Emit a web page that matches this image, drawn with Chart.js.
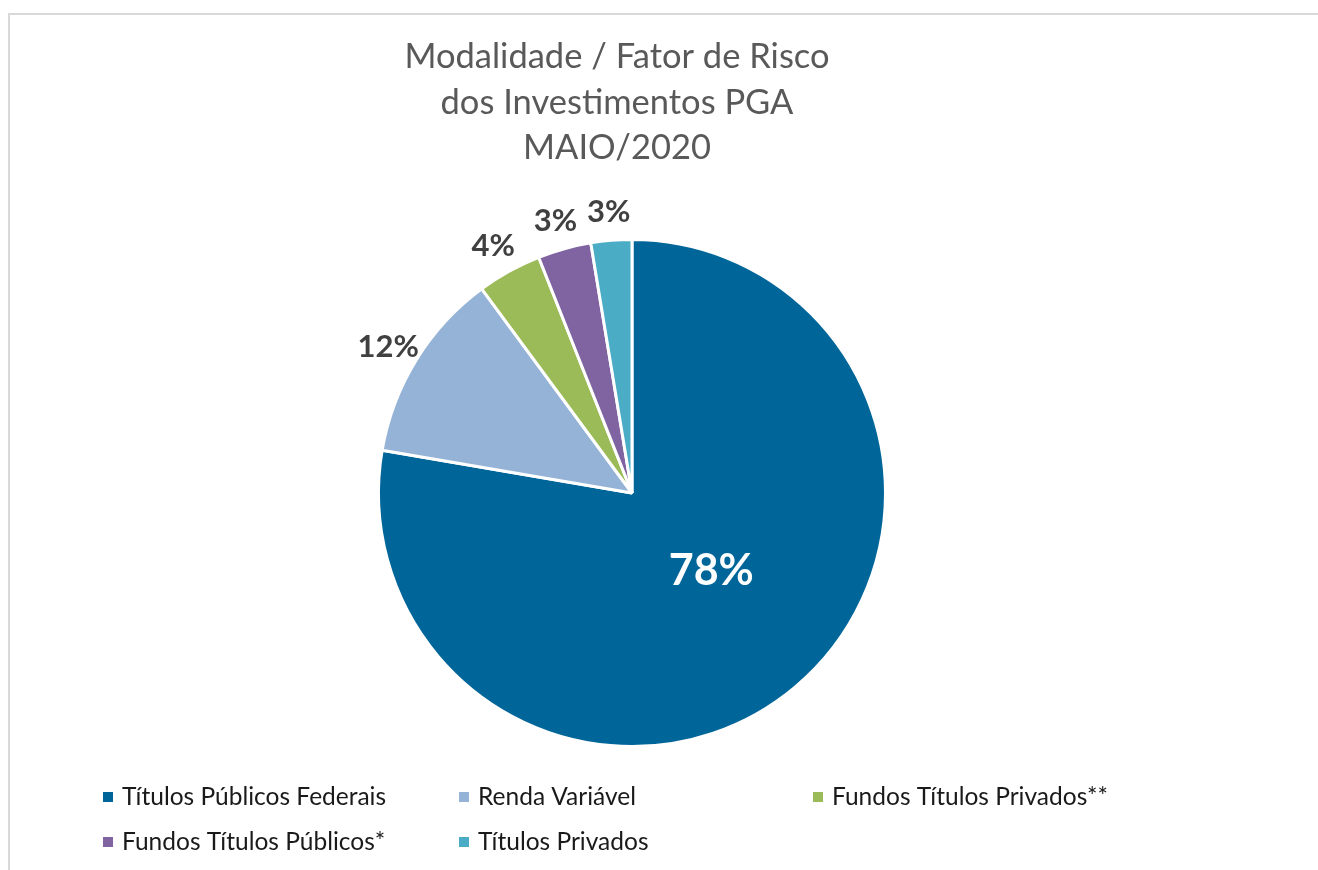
<!DOCTYPE html>
<html>
<head>
<meta charset="utf-8">
<script src="https://cdn.jsdelivr.net/npm/chart.js@4.4.0/dist/chart.umd.min.js"></script>
<style>
  html, body { margin: 0; padding: 0; background: #ffffff; }
  #wrap { position: relative; width: 1318px; height: 870px; }
  #frame { position: absolute; left: 8px; top: 13px; width: 1320px; height: 880px; border: 2px solid #d9d9d9; box-sizing: border-box; }
  canvas { position: absolute; left: 0; top: 0; }
</style>
</head>
<body>
<div id="wrap">
  <div id="frame"></div>
  <canvas id="c" width="1318" height="870"></canvas>
</div>
<script>
const titleLines = ['Modalidade / Fator de Risco', 'dos Investimentos PGA', 'MAIO/2020'];
const categories = ['Títulos Públicos Federais', 'Renda Variável', 'Fundos Títulos Privados**', 'Fundos Títulos Públicos*', 'Títulos Privados'];
const shares = [77.7, 12.2, 4.1, 3.4, 2.6];
const sliceColors = ['#006699', '#95B3D7', '#9BBB59', '#8064A2', '#4BACC6'];

const FONT = 'Lato, "Open Sans", sans-serif';

const titlePlugin = {
  id: 'manualTitle',
  afterDraw(chart) {
    const ctx = chart.ctx;
    ctx.save();
    ctx.font = '34.5px ' + FONT;
    ctx.fillStyle = '#595959';
    ctx.textAlign = 'center';
    ctx.textBaseline = 'middle';
    titleLines.forEach((t, i) => ctx.fillText(t, 617, 57 + i * 45.5));
    ctx.restore();
  }
};

const labelPlugin = {
  id: 'sliceLabels',
  afterDatasetsDraw(chart) {
    const ctx = chart.ctx;
    const meta = chart.getDatasetMeta(0);
    const data = chart.data.datasets[0].data;
    const total = data.reduce((a, b) => a + b, 0);
    ctx.save();
    ctx.textAlign = 'center';
    ctx.textBaseline = 'middle';
    meta.data.forEach((arc, i) => {
      const p = arc.getProps(['x', 'y', 'startAngle', 'endAngle', 'outerRadius'], true);
      const mid = (p.startAngle + p.endAngle) / 2;
      const txt = Math.round(data[i] / total * 100) + '%';
      let r, color, size, a = mid, dy = 0;
      if (i === 0) { r = p.outerRadius * 0.44; color = '#ffffff'; size = 43; a = mid - 0.09; }
      else { r = p.outerRadius * 1.13; color = '#404040'; size = 31; dy = 4; }
      ctx.font = 'bold ' + size + 'px ' + FONT;
      ctx.fillStyle = color;
      ctx.fillText(txt, p.x + Math.cos(a) * r, p.y + Math.sin(a) * r + dy);
    });
    ctx.restore();
  }
};

const legendPlugin = {
  id: 'gridLegend',
  afterDraw(chart) {
    const ctx = chart.ctx;
    const colX = [103, 459, 813];
    const rowY = [797, 842];
    ctx.save();
    ctx.font = '24.5px ' + FONT;
    ctx.textBaseline = 'middle';
    ctx.textAlign = 'left';
    chart.data.labels.forEach((lab, i) => {
      const col = i % 3, row = Math.floor(i / 3);
      const x = colX[col], y = rowY[row];
      ctx.fillStyle = chart.data.datasets[0].backgroundColor[i];
      ctx.fillRect(x, y - 5, 10, 10);
      ctx.fillStyle = '#1a1a1a';
      ctx.fillText(lab, x + 19, y);
    });
    ctx.restore();
  }
};

new Chart(document.getElementById('c'), {
  type: 'pie',
  data: {
    labels: categories,
    datasets: [{
      data: shares,
      backgroundColor: sliceColors,
      borderColor: '#ffffff',
      borderWidth: 3
    }]
  },
  options: {
    responsive: false,
    animation: false,
    layout: { padding: { top: 238, bottom: 122, left: 0, right: 54 } },
    plugins: {
      legend: { display: false },
      tooltip: { enabled: false },
      title: { display: false }
    }
  },
  plugins: [labelPlugin, titlePlugin, legendPlugin]
});
</script>
</body>
</html>
